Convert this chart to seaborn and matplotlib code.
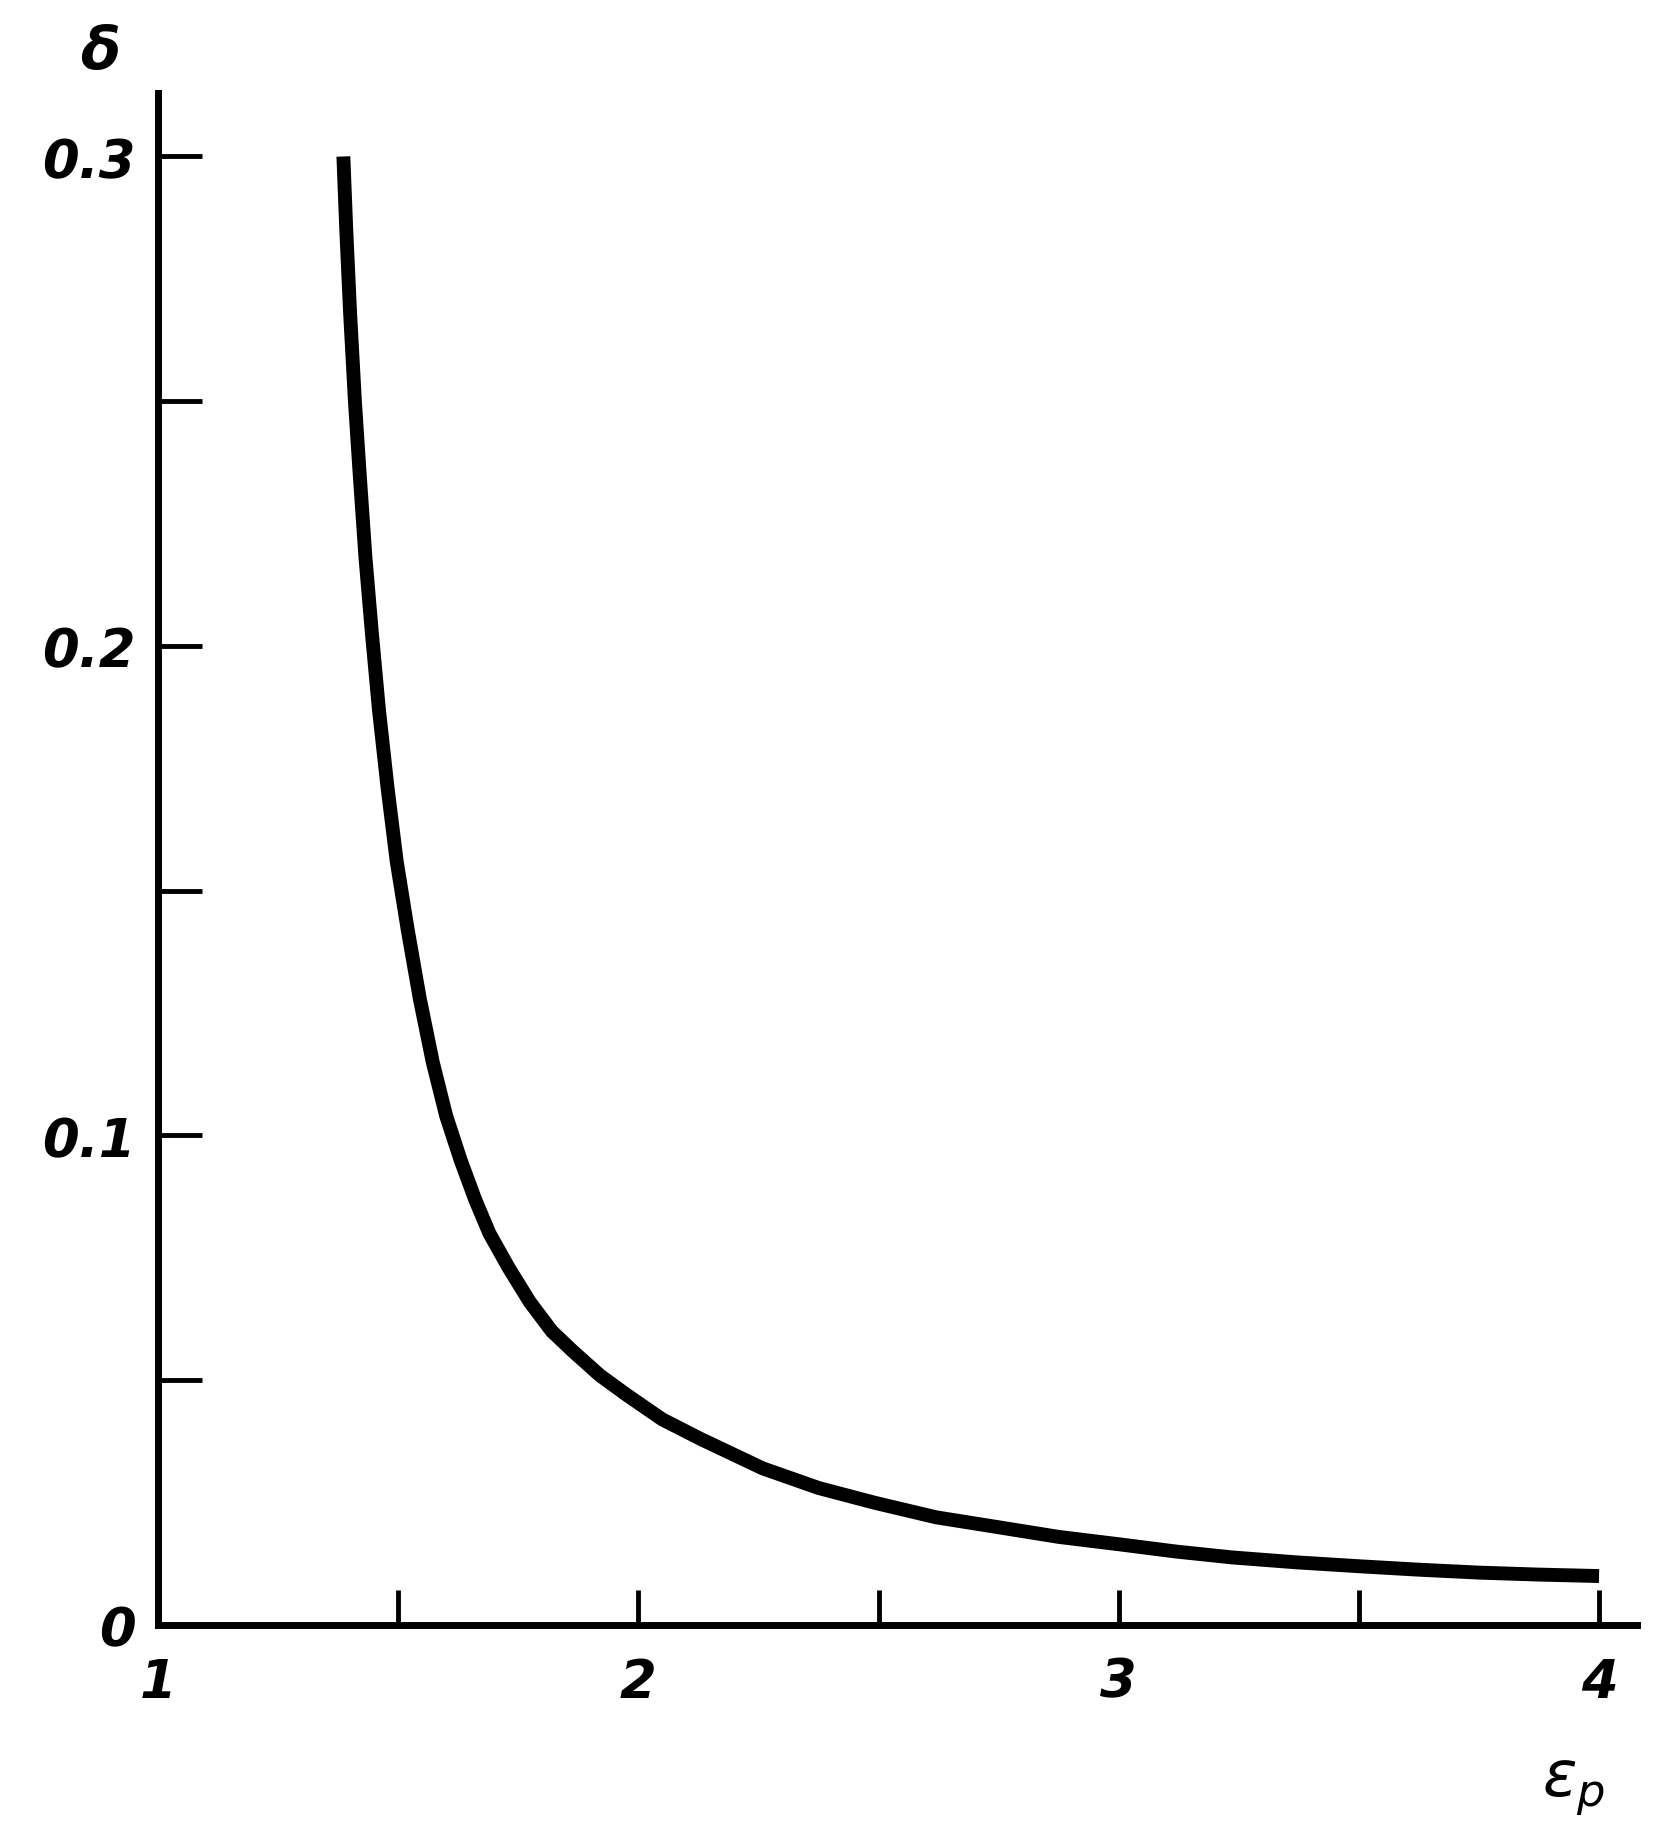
import pandas as pd
import matplotlib
matplotlib.use('Agg')
import matplotlib.pyplot as plt
import seaborn as sns

# values
eps_p = [1.386, 1.392, 1.400, 1.410, 1.420, 1.432, 1.445, 1.460, 1.478, 1.497,
         1.520, 1.545, 1.572, 1.600, 1.630, 1.660, 1.690, 1.730, 1.774, 1.820,
         1.863, 1.920, 1.976, 2.050, 2.130, 2.259, 2.375, 2.491, 2.620, 2.748,
         2.875, 3.000, 3.120, 3.237, 3.370, 3.501, 3.625, 3.751, 3.875, 4.000]
delta = [0.300, 0.285, 0.268, 0.250, 0.235, 0.218, 0.203, 0.187, 0.171, 0.156,
         0.142, 0.128, 0.115, 0.104, 0.095, 0.087, 0.080, 0.073, 0.066, 0.060,
         0.056, 0.051, 0.047, 0.042, 0.038, 0.032, 0.028, 0.025, 0.022, 0.020,
         0.018, 0.0165, 0.0150, 0.0138, 0.0128, 0.0120, 0.0113, 0.0107, 0.0103, 0.0100]

x_ticks = [1, 1.5, 2, 2.5, 3, 3.5, 4]
x_labels = ['1', '', '2', '', '3', '', '4']
y_ticks = [0, 0.05, 0.1, 0.15, 0.2, 0.25, 0.3]
y_labels = ['0', '', '0.1', '', '0.2', '', '0.3']

df = pd.DataFrame({'eps': eps_p, 'delta': delta})

sns.set_style('white')
plt.rcParams['font.family'] = ['DejaVu Sans']

fig = plt.figure(figsize=(16.68, 18.4), dpi=100)
ax = fig.add_axes([0.0947, 0.1163, 0.887, 0.8327])

sns.lineplot(data=df, x='eps', y='delta', ax=ax, color='black', linewidth=10,
             solid_capstyle='butt')

ax.set_xlim(1, 4.08)
ax.set_ylim(0, 0.313)

sns.despine(ax=ax)
for side in ['left', 'bottom']:
    ax.spines[side].set_linewidth(5)
    ax.spines[side].set_color('black')

ax.set_xticks(x_ticks)
ax.set_xticklabels(x_labels, fontsize=38, fontstyle='italic', fontweight='bold')
ax.set_yticks(y_ticks)
ax.set_yticklabels(y_labels, fontsize=38, fontstyle='italic', fontweight='bold')
ax.tick_params(axis='x', bottom=True, direction='in', length=25, width=3.5,
               pad=22, colors='black')
ax.tick_params(axis='y', left=True, direction='in', length=32, width=3.5,
               pad=16, colors='black')

ax.set_xlabel(r'$\varepsilon_p$', fontsize=46, color='black')
ax.xaxis.set_label_coords(0.957, -0.085)
ax.set_ylabel('δ', fontsize=42, fontstyle='italic', fontweight='bold',
              rotation=0, va='center', color='black')
ax.yaxis.set_label_coords(-0.039, 1.027)

fig.savefig('out.png', dpi=100)
